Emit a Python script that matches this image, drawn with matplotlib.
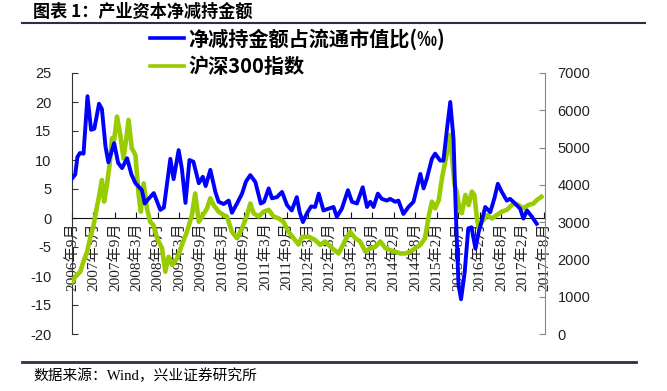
import matplotlib
matplotlib.use('Agg')
import matplotlib.pyplot as plt
from matplotlib.lines import Line2D

plt.rcParams['font.family'] = ['Liberation Sans', 'Noto Sans CJK SC']
plt.rcParams['axes.unicode_minus'] = False

# x positions are months since 2006-09
blue_m = [0, 0.9, 1.5, 2.2, 3.2, 4.3, 5.3, 6.2, 7.5, 8.3, 9.3, 10.1, 11.7, 12.8, 13.9, 15.3, 16.5,
          17.6, 19.4, 20.2, 21.1, 22.7, 24.5, 25.5, 27.3, 28.2, 29.6, 30.5, 31.5, 32.6, 33.7, 35.2,
          36.3, 37.1, 38.4, 39.8, 40.7, 42.1, 43.5, 44.4, 45.8, 47.2, 48.3, 49.5, 50.9, 52.4, 53.3,
          54.6, 55.5, 56.9, 58.3, 59.7, 61.0, 62.4, 63.2, 64.1, 65.2, 66.4, 67.5, 68.5, 69.8, 71.2,
          72.6, 73.5, 74.9, 76.6, 77.7, 79.1, 80.7, 81.9, 82.8, 83.7, 84.9, 86.0, 87.4, 88.3, 89.7,
          90.6, 92.0, 93.4, 94.8, 96.7, 97.6, 98.5, 99.9, 100.8, 102.2, 103.1, 104.1, 105.0, 105.9,
          106.6, 107.3, 108.0, 109.0, 110.0, 110.9, 112.0, 112.9, 113.8, 114.7, 116.1, 117.3, 118.2,
          119.3, 120.7, 121.6, 123.0, 124.4, 125.3, 126.3, 127.7, 129.0]
blue_v = [6.8, 7.5, 10.5, 11.2, 11.1, 21.0, 15.2, 15.4, 19.7, 18.8, 12.3, 9.6, 12.9, 9.5, 8.6, 10.3, 7.5,
          6.0, 4.8, 2.5, 3.2, 4.3, 1.4, 1.8, 10.2, 6.7, 11.7, 8.5, 2.6, 10.0, 9.7, 6.0,
          7.1, 5.5, 8.3, 4.5, 2.8, 2.4, 3.0, 0.9, 2.5, 4.2, 6.3, 7.4, 6.2, 2.5, 2.8,
          5.1, 3.4, 3.6, 4.5, 2.2, 1.3, 3.6, 1.0, -0.7, 0.8, 2.0, 1.9, 4.2, 1.3, 1.6,
          1.9, 0.2, 1.6, 4.8, 2.8, 2.5, 5.3, 1.9, 2.8, 1.9, 4.2, 3.3, 3.0, 3.3, 2.8,
          3.0, 0.7, 1.9, 2.8, 7.6, 5.1, 6.8, 10.2, 11.1, 9.9, 9.9, 15.4, 20.0, 13.7,
          -0.1, -11.6, -14.0, -9.4, -1.8, -1.6, -5.3, -2.4, -0.4, 1.9, 1.0, 3.5, 5.9,
          4.5, 3.0, 3.3, 2.5, 1.6, -0.1, 1.3, 0.2, -1.0]

green_m = [0, 1.0, 2.3, 3.2, 4.2, 5.1, 6.0, 6.9, 7.4, 8.3, 8.9, 9.7, 10.5, 11.1, 11.7, 12.5, 13.4, 14.3,
           15.0, 15.7, 16.6, 17.6, 18.5, 19.1, 19.9, 20.8, 21.7, 22.6, 23.6, 25.0, 25.9, 26.8, 27.8,
           29.2, 30.5, 31.9, 33.3, 34.2, 35.2, 36.1, 37.5, 38.4, 39.3, 40.7, 42.1, 43.0, 44.4, 45.8,
           47.2, 48.6, 49.5, 50.4, 51.8, 53.2, 54.6, 56.0, 57.4, 58.7, 60.1, 61.5, 62.9, 63.8, 65.7,
           67.5, 68.9, 70.3, 72.2, 74.0, 75.9, 77.2, 78.6, 80.0, 81.4, 82.8, 84.2, 85.6, 87.0, 88.3,
           89.7, 91.1, 92.5, 93.9, 95.3, 96.7, 98.0, 99.0, 99.9, 100.8, 101.8, 102.7, 103.6, 104.5,
           105.0, 105.6, 106.2, 106.8, 107.5, 108.2, 109.2, 110.1, 111.0, 111.7, 112.4, 112.9, 113.8,
           115.2, 116.6, 117.9, 119.3, 120.7, 122.1, 123.0, 123.9, 125.3, 126.7, 128.1, 129.0, 130.3]
green_v = [1400, 1550, 1670, 1950, 2210, 2600, 2920, 3400, 3640, 4130, 3550, 4000, 4600, 5250, 5200, 5830, 5340, 4710,
           5200, 5740, 4980, 4800, 3730, 3280, 4040, 3370, 3010, 2920, 2570, 2300, 1670, 2070, 1850,
           2030, 2390, 2740, 3190, 3770, 3010, 3150, 3370, 3640, 3460, 3280, 3190, 3150, 2740, 2570,
           2830, 3190, 3500, 3240, 3150, 3280, 3330, 3150, 3100, 3010, 2740, 2570, 2400, 2600, 2610,
           2520, 2390, 2480, 2300, 2160, 2520, 2740, 2570, 2480, 2210, 2300, 2340, 2480, 2300, 2250,
           2210, 2160, 2160, 2210, 2300, 2390, 2570, 3150, 3550, 3370, 3590, 4180, 4620, 5070,
           5340, 4620, 4000, 3820, 3370, 3240, 3730, 3460, 3820, 3730, 3100, 2830, 3010,
           3190, 3100, 3190, 3280, 3330, 3460, 3500, 3460, 3370, 3460, 3500, 3590, 3680]

tick_labels = ['2006年9月', '2007年3月', '2007年9月', '2008年3月', '2008年9月', '2009年3月',
               '2009年9月', '2010年3月', '2010年9月', '2011年3月', '2011年9月', '2012年3月',
               '2012年8月', '2013年2月', '2013年8月', '2014年2月', '2014年8月', '2015年2月',
               '2015年8月', '2016年2月', '2016年8月', '2017年2月', '2017年8月']
last_month = 131

name_blue = '净减持金额占流通市值比(‰)'
name_green = '沪深300指数'

fig = plt.figure(figsize=(6.67, 3.91), dpi=100)
ax = fig.add_axes([72 / 667, 1 - 334 / 391, (545 - 72) / 667, (334 - 73) / 391])
ax2 = ax.twinx()
ax3 = ax.twinx()

ax.set_xlim(0, 131.3)
ax.set_ylim(-20, 25)
ax.spines['bottom'].set_position(('data', 0))
ax.spines['top'].set_visible(False)
ax.spines['right'].set_visible(False)
ax.spines['left'].set_color('#333333')
ax.spines['bottom'].set_color('#111111')
ax.tick_params(axis='x', direction='in', length=4, pad=3, color='#111111', labelrotation=90,
               labelsize=11, labelcolor='#222222')
ax.tick_params(axis='y', direction='in', length=4, pad=15, labelsize=10.5, labelcolor='#222222',
               color='#333333')
ax.set_yticks(range(-20, 30, 5))
ax.set_yticklabels(['-20', '-15', '-10', '-5', '0', '5', '10', '15', '20', '25'])
step = last_month / (len(tick_labels) - 1)
ax.set_xticks([i * step for i in range(len(tick_labels))])
ax.set_xticklabels(tick_labels)
for lab in ax.get_xticklabels():
    lab.set_family(['Liberation Serif', 'Noto Sans CJK SC'])
    lab.set_rotation(90)

ax2.set_ylim(0, 7000)
ax2.set_yticks(range(0, 8000, 1000))
ax2.plot(green_m, green_v, color='#99CC00', lw=3.3, solid_joinstyle='round')
for s in ['top', 'left', 'bottom']:
    ax2.spines[s].set_visible(False)
ax2.spines['right'].set_color('#888888')
ax2.tick_params(axis='y', direction='in', length=4, pad=9, labelsize=10.5, labelcolor='#222222',
                color='#888888')

ax3.set_ylim(-20, 25)
ax3.plot(blue_m, blue_v, color='#0000FF', lw=2.8, solid_joinstyle='round')
ax3.axis('off')

handles = [Line2D([], [], color='#0000FF', lw=2.6), Line2D([], [], color='#99CC00', lw=2.6)]
fig.legend(handles, [name_blue, name_green], loc='upper left', bbox_to_anchor=(150 / 667, 1 - 28 / 391),
           frameon=False, prop={'family': 'Noto Sans CJK SC', 'weight': 'bold', 'size': 14.5},
           handlelength=1.7, handletextpad=0.2, labelspacing=0.3, borderpad=0, borderaxespad=0)

fig.text(33 / 667, 1 - 12 / 391, '图表 1：产业资本净减持金额', fontsize=12.3, weight='bold',
         family=['Noto Sans CJK SC'], va='center', ha='left')
fig.text(33 / 667, 1 - 376 / 391, '数据来源：Wind，兴业证券研究所', fontsize=10.6,
         family=['Liberation Serif', 'Noto Sans CJK SC'], va='center', ha='left')
fig.add_artist(Line2D([22 / 667, 645 / 667], [1 - 23 / 391] * 2, color='#2E2E48', lw=1.5))
fig.add_artist(Line2D([22 / 667, 636 / 667], [1 - 362 / 391] * 2, color='#2E2E48', lw=2))

fig.savefig('out.png', dpi=100)
